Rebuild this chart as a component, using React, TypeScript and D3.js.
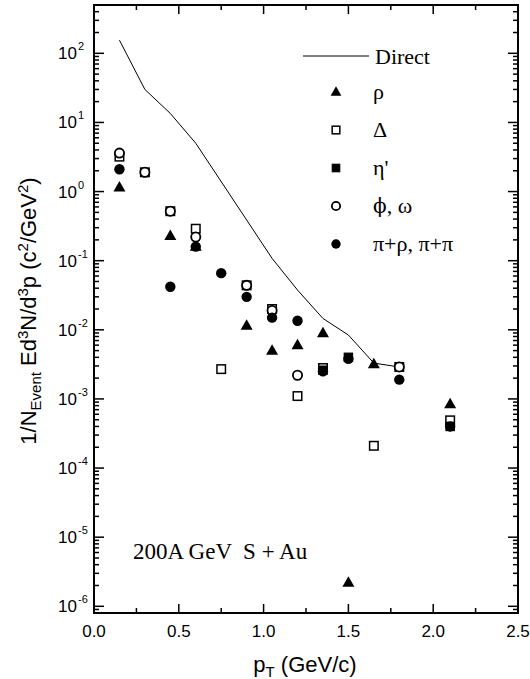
import * as d3 from 'd3';

// p_T values (GeV/c) and yields
const directPt = [0.15, 0.3, 0.45, 0.6, 1.05, 1.2, 1.35, 1.5, 1.65, 1.8];
const directVal = [155, 30, 13.5, 5, 0.108, 0.0376, 0.0146, 0.0084, 0.0033, 0.0029];

const rhoPt = [0.15, 0.45, 0.6, 0.9, 1.05, 1.2, 1.35, 1.5, 1.65, 2.1];
const rhoVal = [1.15, 0.23, 0.16, 0.0115, 0.005, 0.006, 0.009, 2.2e-6, 0.0032, 8.4e-4];

const deltaPt = [0.15, 0.3, 0.45, 0.6, 0.75, 0.9, 1.05, 1.2, 1.35, 1.65, 1.8, 2.1];
const deltaVal = [3.2, 1.9, 0.52, 0.29, 0.0027, 0.044, 0.02, 0.0011, 0.0028, 2.1e-4, 0.0029, 4.9e-4];

const etaPt = [1.35, 1.5, 2.1];
const etaVal = [0.0026, 0.004, 4.0e-4];

const phiPt = [0.15, 0.3, 0.45, 0.6, 0.9, 1.05, 1.2, 1.8];
const phiVal = [3.6, 1.9, 0.52, 0.22, 0.044, 0.019, 0.0022, 0.0029];

const piPt = [0.15, 0.45, 0.6, 0.75, 0.9, 1.05, 1.2, 1.35, 1.5, 1.8, 2.1];
const piVal = [2.1, 0.042, 0.16, 0.066, 0.03, 0.015, 0.0135, 0.0025, 0.0038, 0.0019, 4.0e-4];

const xTicks = [0, 0.5, 1.0, 1.5, 2.0, 2.5];
const yExponents = [-6, -5, -4, -3, -2, -1, 0, 1, 2];

const W = 530;
const H = 679;
const BOX = { left: 94, right: 518, top: 5, bottom: 613 };

const SANS = 'Arial, "Liberation Sans", sans-serif';
const SERIF = '"Times New Roman", "Liberation Serif", serif';

type Shape = 'triangle' | 'openSquare' | 'square' | 'openCircle' | 'circle';

function Marker({ shape, cx, cy, s = 1 }: { shape: Shape; cx: number; cy: number; s?: number }) {
  if (shape === 'triangle') {
    const w = 12 * s, h = 10.5 * s;
    return <path d={`M${cx},${cy - h * 0.6}L${cx + w / 2},${cy + h * 0.4}L${cx - w / 2},${cy + h * 0.4}Z`} fill="#000" />;
  }
  if (shape === 'openSquare' || shape === 'square') {
    const a = 8.5 * s;
    const open = shape === 'openSquare';
    return <rect x={cx - a / 2} y={cy - a / 2} width={a} height={a}
      fill={open ? '#fff' : '#000'} stroke="#000" strokeWidth={open ? 1.5 : 1} />;
  }
  const open = shape === 'openCircle';
  return <circle cx={cx} cy={cy} r={open ? 4.6 * s : 5.2 * s}
    fill={open ? '#fff' : '#000'} stroke="#000" strokeWidth={open ? 1.8 : 0} />;
}

export default function App() {
  const x = d3.scaleLinear().domain([0, 2.5]).range([BOX.left, BOX.right]);
  const y = d3.scaleLog().domain([8e-7, 500]).range([BOX.bottom, BOX.top]);

  const xMinor = d3.range(0.25, 2.5, 0.5);
  const yMinor: number[] = [];
  for (let e = -7; e <= 2; e++) {
    for (let k = 2; k <= 9; k++) {
      const v = k * Math.pow(10, e);
      if (v > 8e-7 && v < 500) yMinor.push(v);
    }
  }

  const line = d3.line<number>()
    .x((_, i) => x(directPt[i]))
    .y((d) => y(d));

  const series: { shape: Shape; pt: number[]; val: number[]; label: string }[] = [
    { shape: 'triangle', pt: rhoPt, val: rhoVal, label: 'ρ' },
    { shape: 'openSquare', pt: deltaPt, val: deltaVal, label: 'Δ' },
    { shape: 'square', pt: etaPt, val: etaVal, label: "η'" },
    { shape: 'openCircle', pt: phiPt, val: phiVal, label: 'ϕ, ω' },
    { shape: 'circle', pt: piPt, val: piVal, label: 'π+ρ, π+π' },
  ];

  return (
    <svg width={W} height={H} style={{ position: 'absolute', left: 0, top: 0, background: '#fff' }}>
      <rect width={W} height={H} fill="#fff" />

      {/* ticks */}
      <g stroke="#000" strokeWidth={1.5}>
        {xTicks.map((t) => (
          <g key={'xt' + t}>
            <line x1={x(t)} x2={x(t)} y1={BOX.bottom} y2={BOX.bottom - 9} />
            <line x1={x(t)} x2={x(t)} y1={BOX.top} y2={BOX.top + 9} />
          </g>
        ))}
        {xMinor.map((t) => (
          <g key={'xm' + t}>
            <line x1={x(t)} x2={x(t)} y1={BOX.bottom} y2={BOX.bottom - 5} />
            <line x1={x(t)} x2={x(t)} y1={BOX.top} y2={BOX.top + 5} />
          </g>
        ))}
        {yExponents.map((e) => {
          const yy = y(Math.pow(10, e));
          return (
            <g key={'yt' + e}>
              <line x1={BOX.left} x2={BOX.left + 10} y1={yy} y2={yy} />
              <line x1={BOX.right} x2={BOX.right - 10} y1={yy} y2={yy} />
            </g>
          );
        })}
        {yMinor.map((v, i) => (
          <g key={'ym' + i}>
            <line x1={BOX.left} x2={BOX.left + 5} y1={y(v)} y2={y(v)} />
            <line x1={BOX.right} x2={BOX.right - 5} y1={y(v)} y2={y(v)} />
          </g>
        ))}
      </g>

      <rect x={BOX.left} y={BOX.top} width={BOX.right - BOX.left} height={BOX.bottom - BOX.top}
        fill="none" stroke="#000" strokeWidth={2} />

      {/* tick labels */}
      <g fontFamily={SANS} fontSize={17} fill="#000">
        {xTicks.map((t) => (
          <text key={'xl' + t} x={x(t)} y={637} textAnchor="middle">{t.toFixed(1)}</text>
        ))}
        {yExponents.map((e) => {
          const yy = y(Math.pow(10, e));
          return (
            <g key={'yl' + e}>
              <text x={77} y={yy + 6} textAnchor="end">10</text>
              <text x={78} y={yy - 3} fontSize={11}>{e}</text>
            </g>
          );
        })}
      </g>

      {/* axis titles */}
      <text x={305} y={672} textAnchor="middle" fontFamily={SANS} fontSize={22}>
        p<tspan fontSize={15} dy={5}>T</tspan><tspan dy={-5}> (GeV/c)</tspan>
      </text>
      <text transform={`translate(36,${(BOX.top + BOX.bottom) / 2 + 2}) rotate(-90)`} textAnchor="middle"
        fontFamily={SANS} fontSize={22}>
        1/N<tspan fontSize={15} dy={5}>Event</tspan>
        <tspan dy={-5}> Ed</tspan><tspan fontSize={15} dy={-8}>3</tspan>
        <tspan dy={8}>N/d</tspan><tspan fontSize={15} dy={-8}>3</tspan>
        <tspan dy={8}>p  (c</tspan><tspan fontSize={15} dy={-8}>2</tspan>
        <tspan dy={8}>/GeV</tspan><tspan fontSize={15} dy={-8}>2</tspan>
        <tspan dy={8}>)</tspan>
      </text>

      {/* direct photons */}
      <path d={line(directVal) || ''} fill="none" stroke="#000" strokeWidth={1} />

      {/* data markers */}
      {series.map((s) => (
        <g key={s.label}>
          {s.val.map((v, i) => (
            <Marker key={i} shape={s.shape} cx={x(s.pt[i])} cy={y(v)} />
          ))}
        </g>
      ))}

      {/* legend */}
      <g fontFamily={SERIF} fontSize={22} fill="#000">
        <line x1={303} x2={369} y1={56} y2={56} stroke="#000" strokeWidth={1} />
        <text x={375} y={64}>Direct</text>
        {series.map((s, i) => {
          const ly = 92 + i * 38;
          const phi = s.label.startsWith('ϕ');
          return (
            <g key={'lg' + s.label}>
              <Marker shape={s.shape} cx={336} cy={ly} s={0.9} />
              {phi ? (
                <text x={373} y={ly + 7}>
                  <tspan fontFamily='"DejaVu Serif", serif' fontSize={20} fill="#000">ϕ</tspan>
                  <tspan>{s.label.slice(1)}</tspan>
                </text>
              ) : (
                <text x={373} y={ly + 7}>{s.label}</text>
              )}
            </g>
          );
        })}
      </g>

      <text x={133} y={559} fontFamily={SERIF} fontSize={23} style={{ whiteSpace: 'pre' }}>
        200A GeV  S + Au
      </text>
    </svg>
  );
}
